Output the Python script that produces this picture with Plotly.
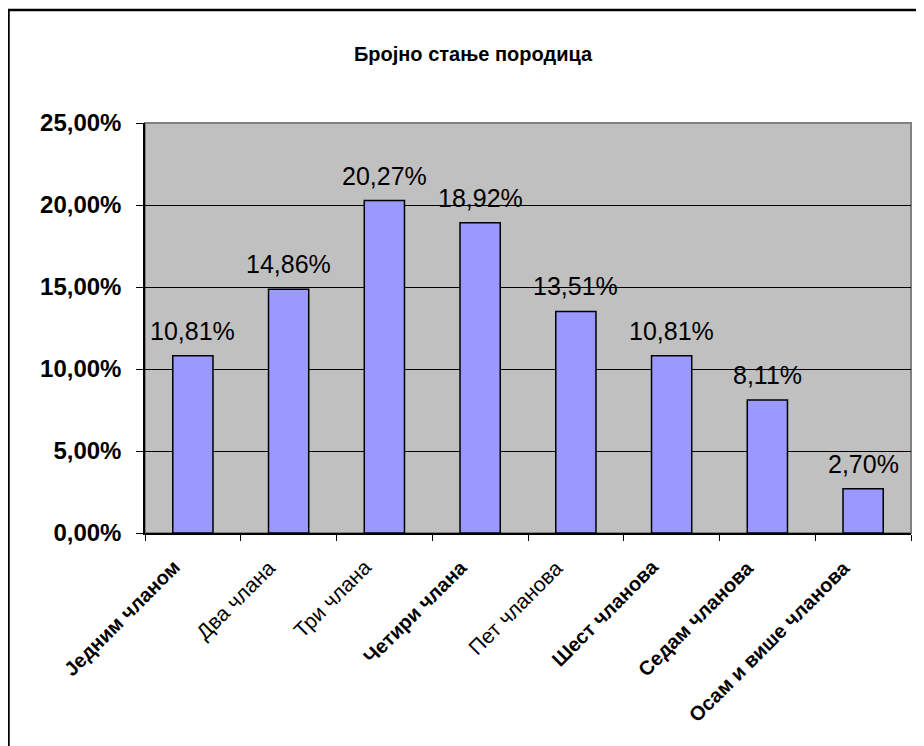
import plotly.graph_objects as go

categories = ["Једним чланом", "Два члана", "Три члана", "Четири члана",
              "Пет чланова", "Шест чланова", "Седам чланова", "Осам и више чланова"]
bold_flags = [True, False, False, True, False, True, True, True]
values = [10.81, 14.86, 20.27, 18.92, 13.51, 10.81, 8.11, 2.70]
tick_vals = [0, 5, 10, 15, 20, 25]
tick_text = ["0,00%", "5,00%", "10,00%", "15,00%", "20,00%", "25,00%"]
title_text = "Бројно стање породица"

# page body has an 8px margin, so figure coords = screen coords - 8
W, H = 916, 738
L, R, T, B = 137, 903, 115, 525
pw, ph = R - L, B - T

fig = go.Figure()
fig.add_trace(go.Bar(
    x=categories, y=values,
    marker=dict(color="#9999FF", line=dict(color="black", width=1.5)),
    hoverinfo="skip",
))

# data labels
for c, v in zip(categories, values):
    fig.add_annotation(
        x=c, y=v, text=f"{v:.2f}%".replace(".", ","),
        showarrow=False, yanchor="bottom", yshift=9,
        font=dict(family="Liberation Sans, Arial", size=25, color="black"),
    )

# rotated category labels
for c, b in zip(categories, bold_flags):
    fig.add_annotation(
        x=c, y=0, xref="x", yref="paper",
        text=f"<b>{c}</b>" if b else c,
        textangle=-45, showarrow=False,
        xanchor="right", yanchor="top", xshift=-6, yshift=-20,
        font=dict(family="Liberation Sans, Arial", size=20 if b else 21, color="black"),
    )

# outer chart border
fig.add_shape(type="rect", xref="paper", yref="paper",
              x0=(0.5 - L) / pw, x1=(930 - L) / pw,
              y0=(B - 760) / ph, y1=1 + (T - 2) / ph,
              line=dict(color="black", width=2.5), fillcolor="rgba(0,0,0,0)", layer="below")
# plot area border (grey)
fig.add_shape(type="rect", xref="paper", yref="paper",
              x0=0, x1=1, y0=0, y1=1,
              line=dict(color="#808080", width=2), fillcolor="rgba(0,0,0,0)", layer="below")

fig.update_layout(
    width=W, height=H,
    margin=dict(l=L, r=W - R, t=T, b=H - B),
    paper_bgcolor="white", plot_bgcolor="#C0C0C0",
    bargap=0.58,
    showlegend=False,
    font=dict(family="Liberation Sans, Arial", color="black"),
    title=dict(text=f"<b>{title_text}</b>", x=465 / W, xanchor="center",
               y=1 - 46 / H, yanchor="middle", yref="container",
               font=dict(family="Liberation Sans, Arial", size=20, color="black")),
    xaxis=dict(
        type="category", categoryarray=categories, categoryorder="array",
        range=[-0.5, len(categories) - 0.5], autorange=False,
        showticklabels=False,
        tickson="boundaries", ticks="outside", ticklen=6,
        tickcolor="black", showline=True, linecolor="black", linewidth=1.5,
        showgrid=False,
    ),
    yaxis=dict(
        range=[0, 25], autorange=False, tickvals=tick_vals,
        ticktext=[f"<b>{t}</b>" for t in tick_text],
        ticks="outside", ticklen=7, tickcolor="black",
        showline=True, linecolor="black", linewidth=1.5,
        showgrid=True, gridcolor="black", gridwidth=1, zeroline=False,
        tickfont=dict(size=24, family="Liberation Sans, Arial"),
        ticklabelstandoff=10,
    ),
)

fig.write_html("out.html")
